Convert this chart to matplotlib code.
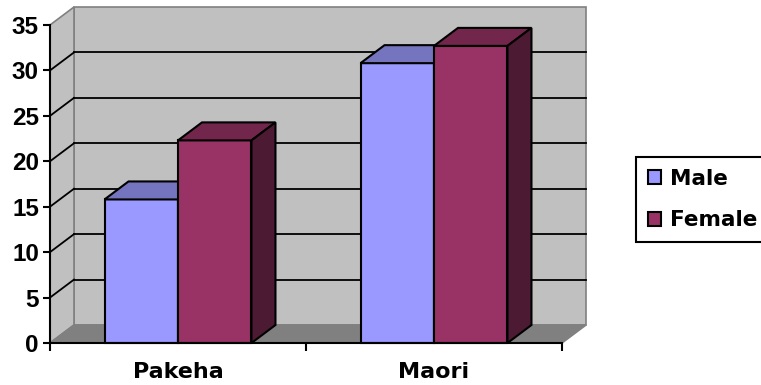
import matplotlib
matplotlib.use('Agg')
import matplotlib.pyplot as plt
from matplotlib.patches import Polygon, Patch
from matplotlib.lines import Line2D

# ---- data ----
categories = ['Pakeha', 'Maori']
series_names = ['Male', 'Female']
male = [15.8, 30.8]
female = [22.3, 32.7]
y_ticks = [0, 5, 10, 15, 20, 25, 30, 35]

# ---- style ----
front_col = {'Male': '#9999FF', 'Female': '#993366'}
top_col = {'Male': '#7575BF', 'Female': '#73264C'}
side_col = {'Male': '#5C5C99', 'Female': '#4D1A33'}
WALL = '#C0C0C0'
FLOOR = '#808080'
EDGE_GRAY = '#808080'

W, H = 761, 385
fig = plt.figure(figsize=(W / 100, H / 100), dpi=100)
ax = fig.add_axes([50 / W, 42 / H, 512 / W, 318 / H])
ax.set_xlim(0, len(categories))
ax.set_ylim(0, 35)
ax.patch.set_visible(False)

sx = 512 / len(categories)  # px per category
sy = 318 / 35               # px per unit
DX = 24 / sx
DY = 18 / sy
XMAX = len(categories)
YMAX = y_ticks[-1]

# walls and floor
ax.add_patch(Polygon([(DX, DY), (XMAX + DX, DY), (XMAX + DX, YMAX + DY), (DX, YMAX + DY)],
                     closed=True, fc=WALL, ec=EDGE_GRAY, lw=1.2, clip_on=False, zorder=0.5))
ax.add_patch(Polygon([(0, 0), (DX, DY), (DX, YMAX + DY), (0, YMAX)],
                     closed=True, fc=WALL, ec=EDGE_GRAY, lw=1.2, clip_on=False, zorder=0.5))
ax.add_patch(Polygon([(0, 0), (XMAX, 0), (XMAX + DX, DY), (DX, DY)],
                     closed=True, fc=FLOOR, ec=EDGE_GRAY, lw=1.2, clip_on=False, zorder=0.6))

# gridlines
for v in y_ticks[1:-1]:
    ax.add_line(Line2D([DX, XMAX + DX], [v + DY, v + DY], color='black', lw=1.3,
                       clip_on=False, zorder=0.8))
    ax.add_line(Line2D([0, DX], [v, v + DY], color='black', lw=1.3,
                       clip_on=False, zorder=0.8))

# bars
w = 0.287
z = 2
for i, cat in enumerate(categories):
    for j, (name, vals) in enumerate(zip(series_names, [male, female])):
        v = vals[i]
        x0 = i + 0.5 - w + j * w
        ax.bar(x0, v, width=w, align='edge', color=front_col[name], edgecolor='black',
               linewidth=1.5, zorder=z, clip_on=False)
        ax.add_patch(Polygon([(x0, v), (x0 + w, v), (x0 + w + DX, v + DY), (x0 + DX, v + DY)],
                             closed=True, fc=top_col[name], ec='black', lw=1.5,
                             zorder=z, clip_on=False, joinstyle='miter'))
        ax.add_patch(Polygon([(x0 + w, 0), (x0 + w + DX, DY), (x0 + w + DX, v + DY), (x0 + w, v)],
                             closed=True, fc=side_col[name], ec='black', lw=1.5,
                             zorder=z, clip_on=False, joinstyle='miter'))
        z += 0.1

# axes
for s in ['top', 'right']:
    ax.spines[s].set_visible(False)
for s in ['left', 'bottom']:
    ax.spines[s].set_linewidth(1.5)
    ax.spines[s].set_zorder(5)

ax.set_yticks(y_ticks)
ax.set_yticklabels([str(t) for t in y_ticks], fontfamily='Liberation Sans',
                   fontweight='bold', fontsize=17.5)
ax.tick_params(axis='y', direction='out', length=5, width=1.5, pad=3)

ax.set_xticks(range(len(categories) + 1))
ax.set_xticklabels([''] * (len(categories) + 1))
ax.tick_params(axis='x', which='major', direction='out', length=6, width=1.5)
ax.set_xticks([i + 0.5 for i in range(len(categories))], minor=True)
ax.set_xticklabels(categories, minor=True, fontfamily='DejaVu Sans',
                   fontweight='bold', fontsize=16)
ax.tick_params(axis='x', which='minor', length=0, pad=14)

# legend
handles = [Patch(facecolor=front_col[n], edgecolor='black', linewidth=1.5) for n in series_names]
leg = fig.legend(handles, series_names, loc='upper left',
                 bbox_to_anchor=(636 / W, 1 - 157 / H), bbox_transform=fig.transFigure,
                 frameon=True, fancybox=False, framealpha=1, edgecolor='black',
                 prop={'family': 'DejaVu Sans', 'weight': 'bold', 'size': 15.5},
                 handlelength=0.6, handleheight=0.6, handletextpad=0.45,
                 labelspacing=1.0, borderpad=0.55, borderaxespad=0)
leg.get_frame().set_linewidth(1.5)

fig.savefig('out.png', dpi=100)
